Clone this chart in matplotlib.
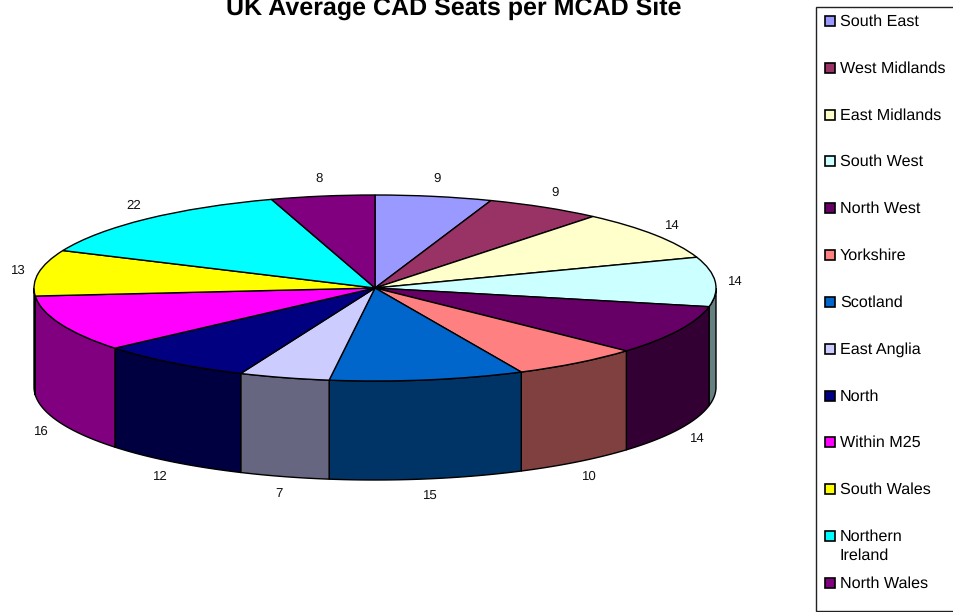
import numpy as np
import matplotlib
matplotlib.use("Agg")
import matplotlib.pyplot as plt
from matplotlib.colors import to_rgb
from matplotlib.patches import Rectangle

plt.rcParams['font.family'] = ['Liberation Sans', 'DejaVu Sans']
plt.rcParams['text.hinting'] = 'no_hinting'

regions = ["South East", "West Midlands", "East Midlands", "South West", "North West",
           "Yorkshire", "Scotland", "East Anglia", "North", "Within M25", "South Wales",
           "Northern\nIreland", "North Wales"]
seats = [9, 9, 14, 14, 14, 10, 15, 7, 12, 16, 13, 22, 8]
colors = ["#9999FF", "#993366", "#FFFFCC", "#CCFFFF", "#660066", "#FF8080", "#0066CC",
          "#CCCCFF", "#000080", "#FF00FF", "#FFFF00", "#00FFFF", "#800080"]

W, H = 954, 612
CX, CY, RX, RY = 375.0, 288.0, 341.0, 93.0
DEPTH = 99.0 / RY

fig = plt.figure(figsize=(W / 100, H / 100), dpi=100)

# pie axes: one data unit is the radius, squashed into an ellipse
ax = fig.add_axes([0, 0, 1, 1])
ax.pie(seats, colors=colors, startangle=90, counterclock=False,
       wedgeprops=dict(edgecolor="black", linewidth=1.0), radius=1.0)
ax.set_aspect("auto")
ax.set_xlim(-CX / RX, (W - CX) / RX)
ax.set_ylim((CY - H) / RY, CY / RY)

# side wall, only the front half of the disc shows
edges = np.cumsum([0] + seats) / sum(seats) * 360.0
for a, b, c in zip(edges[:-1], edges[1:], colors):
    lo, hi = max(a, 90.0), min(b, 270.0)
    if lo >= hi:
        continue
    t = np.radians(np.linspace(lo, hi, 60))
    xs = np.r_[np.sin(t), np.sin(t)[::-1]]
    ys = np.r_[np.cos(t), np.cos(t)[::-1] - DEPTH]
    side = tuple(v * 0.5 for v in to_rgb(c))
    ax.fill(xs, ys, facecolor=side, edgecolor="black", linewidth=1.0, zorder=0.5)

# value labels around the disc
for a, b, v in zip(edges[:-1], edges[1:], seats):
    m = np.radians((a + b) / 2)
    x = 1.06 * np.sin(m)
    if np.cos(m) < 0:
        y = 1.16 * np.cos(m) - 0.03 - DEPTH
    else:
        y = 1.2 * np.cos(m) - 0.01
    ax.text(x, y, str(v), fontsize=9.5, color="#111111", ha="center", va="center")

# overlay in pixel coords for title and legend
ov = fig.add_axes([0, 0, 1, 1])
ov.set_xlim(0, W)
ov.set_ylim(H, 0)
ov.axis("off")
ov.patch.set_alpha(0)

ov.text(454, 15, "UK Average CAD Seats per MCAD Site", fontsize=18, fontweight="bold",
        ha="center", va="baseline")

ov.add_patch(Rectangle((816, 7), 160, 604, facecolor="white", edgecolor="#222222",
                       linewidth=1.0))
legend_y = [21, 68, 115, 161, 208, 255, 302, 349, 396, 442, 489, 536, 583]
for name, c, y in zip(regions, colors, legend_y):
    ov.add_patch(Rectangle((825, y - 5), 10, 10, facecolor=c, edgecolor="black", linewidth=1.2))
    if "\n" in name:
        ov.text(840, y - 7, name, fontsize=11.6, ha="left", va="top", linespacing=1.4)
    else:
        ov.text(840, y + 1, name, fontsize=11.6, ha="left", va="center")

fig.savefig("out.png", dpi=100)
